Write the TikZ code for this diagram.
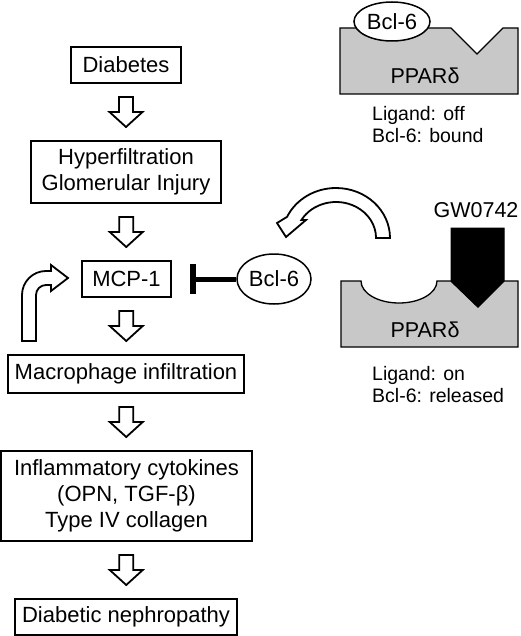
\documentclass[tikz,border=0pt]{standalone}
\usepackage{fontspec}
\setmainfont{Liberation Sans}
\usetikzlibrary{calc,shapes.geometric}
\definecolor{blockgray}{RGB}{200,200,200}
\tikzset{
  flowbox/.style={draw, line width=1.3pt, inner sep=0pt, outer sep=0pt, align=center,
    font=\fontsize{22}{26}\selectfont},
  hollow/.style={draw, line width=1.8pt, fill=white, line join=miter},
  block/.style={draw, line width=1.3pt, fill=blockgray},
  bclnode/.style={draw, ellipse, line width=1.5pt, fill=white, inner sep=0pt,
    font=\fontsize{22}{26}\selectfont},
  lbl/.style={anchor=base west, inner sep=0pt, font=\fontsize{19.5}{22}\selectfont},
  bigtext/.style={inner sep=0pt, font=\fontsize{21.5}{26}\selectfont}
}
\newcommand\hdown[2]{%
  \path ($(#1.south)!0.5!(#2.north)$) coordinate (m);
  \draw[hollow] ($(m)+(-7,-15)$) -- ($(m)+(-7,0)$) -- ($(m)+(-16.5,0)$) -- ($(m)+(0,15)$)
    -- ($(m)+(16.5,0)$) -- ($(m)+(7,0)$) -- ($(m)+(7,-15)$) -- cycle;}
\begin{document}
\begin{tikzpicture}[x=1pt,y=-1pt]
\useasboundingbox (0,0) rectangle (520,636);
% flow boxes
\node[flowbox, minimum width=110, minimum height=36] (diab) at (126,65) {Diabetes};
\node[flowbox, minimum width=190, minimum height=62] (hyper) at (126,172) {Hyperfiltration\\Glomerular Injury};
\node[flowbox, minimum width=89, minimum height=36] (mcp) at (126.5,279) {MCP-1};
\node[flowbox, minimum width=236, minimum height=38] (macro) at (126,374) {Macrophage infiltration};
\node[flowbox, minimum width=251, minimum height=90] (infl) at (126.5,496) {Inflammatory cytokines\\(OPN, TGF-β)\\Type IV collagen};
\node[flowbox, minimum width=222, minimum height=36] (neph) at (126,617) {Diabetic nephropathy};
% hollow arrows
\hdown{diab}{hyper}
\hdown{hyper}{mcp}
\hdown{mcp}{macro}
\hdown{macro}{infl}
\hdown{infl}{neph}
% feedback bent arrow
\draw[hollow] (22,341) -- (22,295) arc[start angle=180, end angle=270, radius=24] -- (51,271)
  -- (51,265) -- (68,278) -- (51,291) -- (51,285) -- (46,285)
  arc[start angle=270, end angle=180, radius=10] -- (36,341) -- cycle;
% inhibition by Bcl-6
\node[bclnode, minimum width=74, minimum height=50] (bclA) at (274,279) {Bcl-6};
\coordinate (bar) at (193,279);
\draw[line width=5pt] (bclA.west) -- (bar);
\draw[line width=6pt] ($(bar)+(0,-15)$) -- ($(bar)+(0,15)$);
% top PPAR block (ligand off)
\draw[block] (340,28) -- (451,28) -- (477,54) -- (503,28) -- (518,28) -- (518,94) -- (340,94) -- cycle;
\node[bigtext] (ppTop) at (425,76) {PPARδ};
\node[bclnode, minimum width=76, minimum height=39] (bclB) at (392,21.5) {Bcl-6};
\node[lbl] (offA) at (372,121) {Ligand: off};
\node[lbl] (offB) at (372,143) {Bcl-6: bound};
% bottom PPAR block (ligand on)
\draw[block] (341,281) -- (361,281) arc[start angle=180, end angle=0, x radius=38, y radius=22]
  -- (451,281) -- (478,307) -- (504,281) -- (518,281) -- (518,347) -- (341,347) -- cycle;
\node[bigtext] (ppBot) at (425,330) {PPARδ};
\node[bigtext, anchor=base] (gw) at (476,217) {GW0742};
\draw[line width=1pt, fill=black] (451,228) -- (504,228) -- (504,281) -- (478,307) -- (451,281) -- cycle;
\node[lbl] (onA) at (372,380) {Ligand: on};
\node[lbl] (onB) at (372,402) {Bcl-6: released};
% curved release arrow
\draw[hollow] (390,238) arc[start angle=0, end angle=-155, x radius=54, y radius=50]
  -- (277,223) -- (286,237) -- (306,220) -- (301.4,220)
  arc[start angle=-150, end angle=0, x radius=40, y radius=36] -- cycle;
\end{tikzpicture}
\end{document}
